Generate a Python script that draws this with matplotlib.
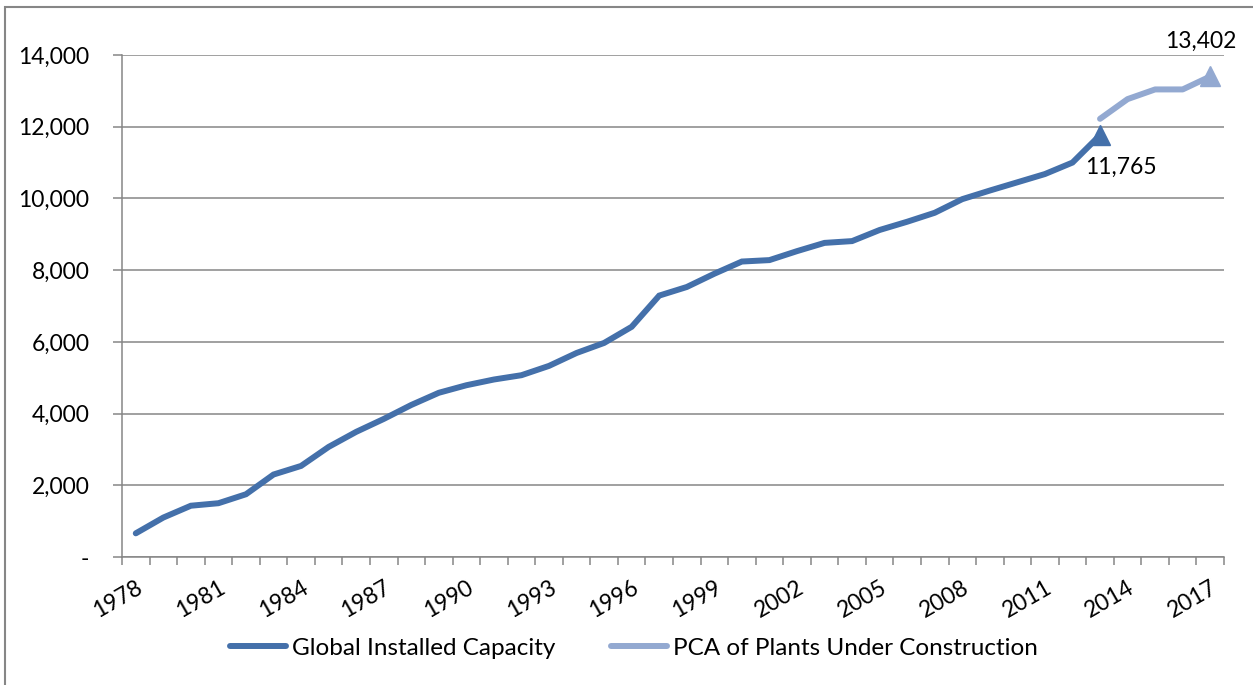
import matplotlib
matplotlib.use("Agg")
import matplotlib.pyplot as plt
from matplotlib.patches import Rectangle
from matplotlib.ticker import FuncFormatter, FixedLocator
import numpy as np

# values (MW)
years = list(range(1978, 2018))
installed = [660, 1100, 1430, 1500, 1750, 2300, 2540, 3070, 3490, 3850,
             4240, 4580, 4790, 4950, 5070, 5330, 5690, 5970, 6420, 7290,
             7530, 7900, 8240, 8280, 8530, 8760, 8810, 9120, 9350, 9600,
             9980, 10220, 10450, 10680, 11000, 11765]
pca_years = [2013, 2014, 2015, 2016, 2017]
pca = [12220, 12770, 13040, 13040, 13402]
label_years = list(range(1978, 2018, 3))

dark = "#4470aa"
light = "#93a9d1"
grey = "#868686"

plt.rcParams['font.family'] = ['Lato', 'DejaVu Sans']
fs = 16.5

fig = plt.figure(figsize=(12.53, 6.85), dpi=100)
ax = fig.add_axes([122 / 1253, 1 - 557 / 685, (1224 - 122) / 1253, (557 - 55) / 685])

# outer frame of the chart object
fig.patches.append(Rectangle((5 / 1253, -0.05), 1.1, 1 - 7 / 685 + 0.05,
                             transform=fig.transFigure, fill=False,
                             edgecolor=grey, lw=1.5))

x_inst = [years.index(y) for y in years[:len(installed)]]
x_pca = [years.index(y) for y in pca_years]

ax.plot(x_inst, installed, color=dark, lw=4.3, solid_capstyle='round',
        solid_joinstyle='miter', label="Global Installed Capacity")
ax.plot(x_inst[-1], installed[-1], marker='^', ms=15, color=dark)
ax.plot(x_pca, pca, color=light, lw=4.3, solid_capstyle='round',
        label="PCA of Plants Under Construction")
ax.plot(x_pca[-1], pca[-1], marker='^', ms=15, color=light, clip_on=False)

ax.annotate(f"{installed[-1]:,}", (x_inst[-1], installed[-1]), xytext=(15, -23),
            textcoords='offset points', ha='center', va='center', fontsize=fs)
ax.annotate(f"{pca[-1]:,}", (x_pca[-1], pca[-1]), xytext=(-7, 25),
            textcoords='offset points', ha='center', va='center', fontsize=fs)

ax.set_xlim(-0.5, len(years) - 0.5)
ax.set_ylim(0, 14000)
ax.set_yticks(range(0, 14001, 2000))
ax.yaxis.set_major_formatter(FuncFormatter(lambda v, p: "-" if v == 0 else f"{int(v):,}"))
ax.grid(axis='y', color=grey, lw=1.1)
ax.set_axisbelow(True)

ax.set_xticks([years.index(y) for y in label_years])
ax.set_xticklabels([str(y) for y in label_years], rotation=30, ha='right',
                   rotation_mode='anchor')
ax.xaxis.set_minor_locator(FixedLocator(np.arange(-0.5, len(years), 1.0)))
ax.tick_params(axis='x', which='major', length=0, pad=14, labelsize=fs)
ax.tick_params(axis='x', which='minor', length=6, width=1.1, color=grey, direction='out')
ax.tick_params(axis='y', length=6.5, width=1.1, color=grey, pad=17, labelsize=fs)

for s in ['top', 'right']:
    ax.spines[s].set_visible(False)
for s in ['left', 'bottom']:
    ax.spines[s].set_color(grey)
    ax.spines[s].set_linewidth(1.1)

fig.legend(loc='center', bbox_to_anchor=(0.506, 0.054), ncol=2, frameon=False,
           fontsize=17.5, handlelength=2.3, handletextpad=0.25, columnspacing=2.3)

fig.savefig("out.png", dpi=100)
